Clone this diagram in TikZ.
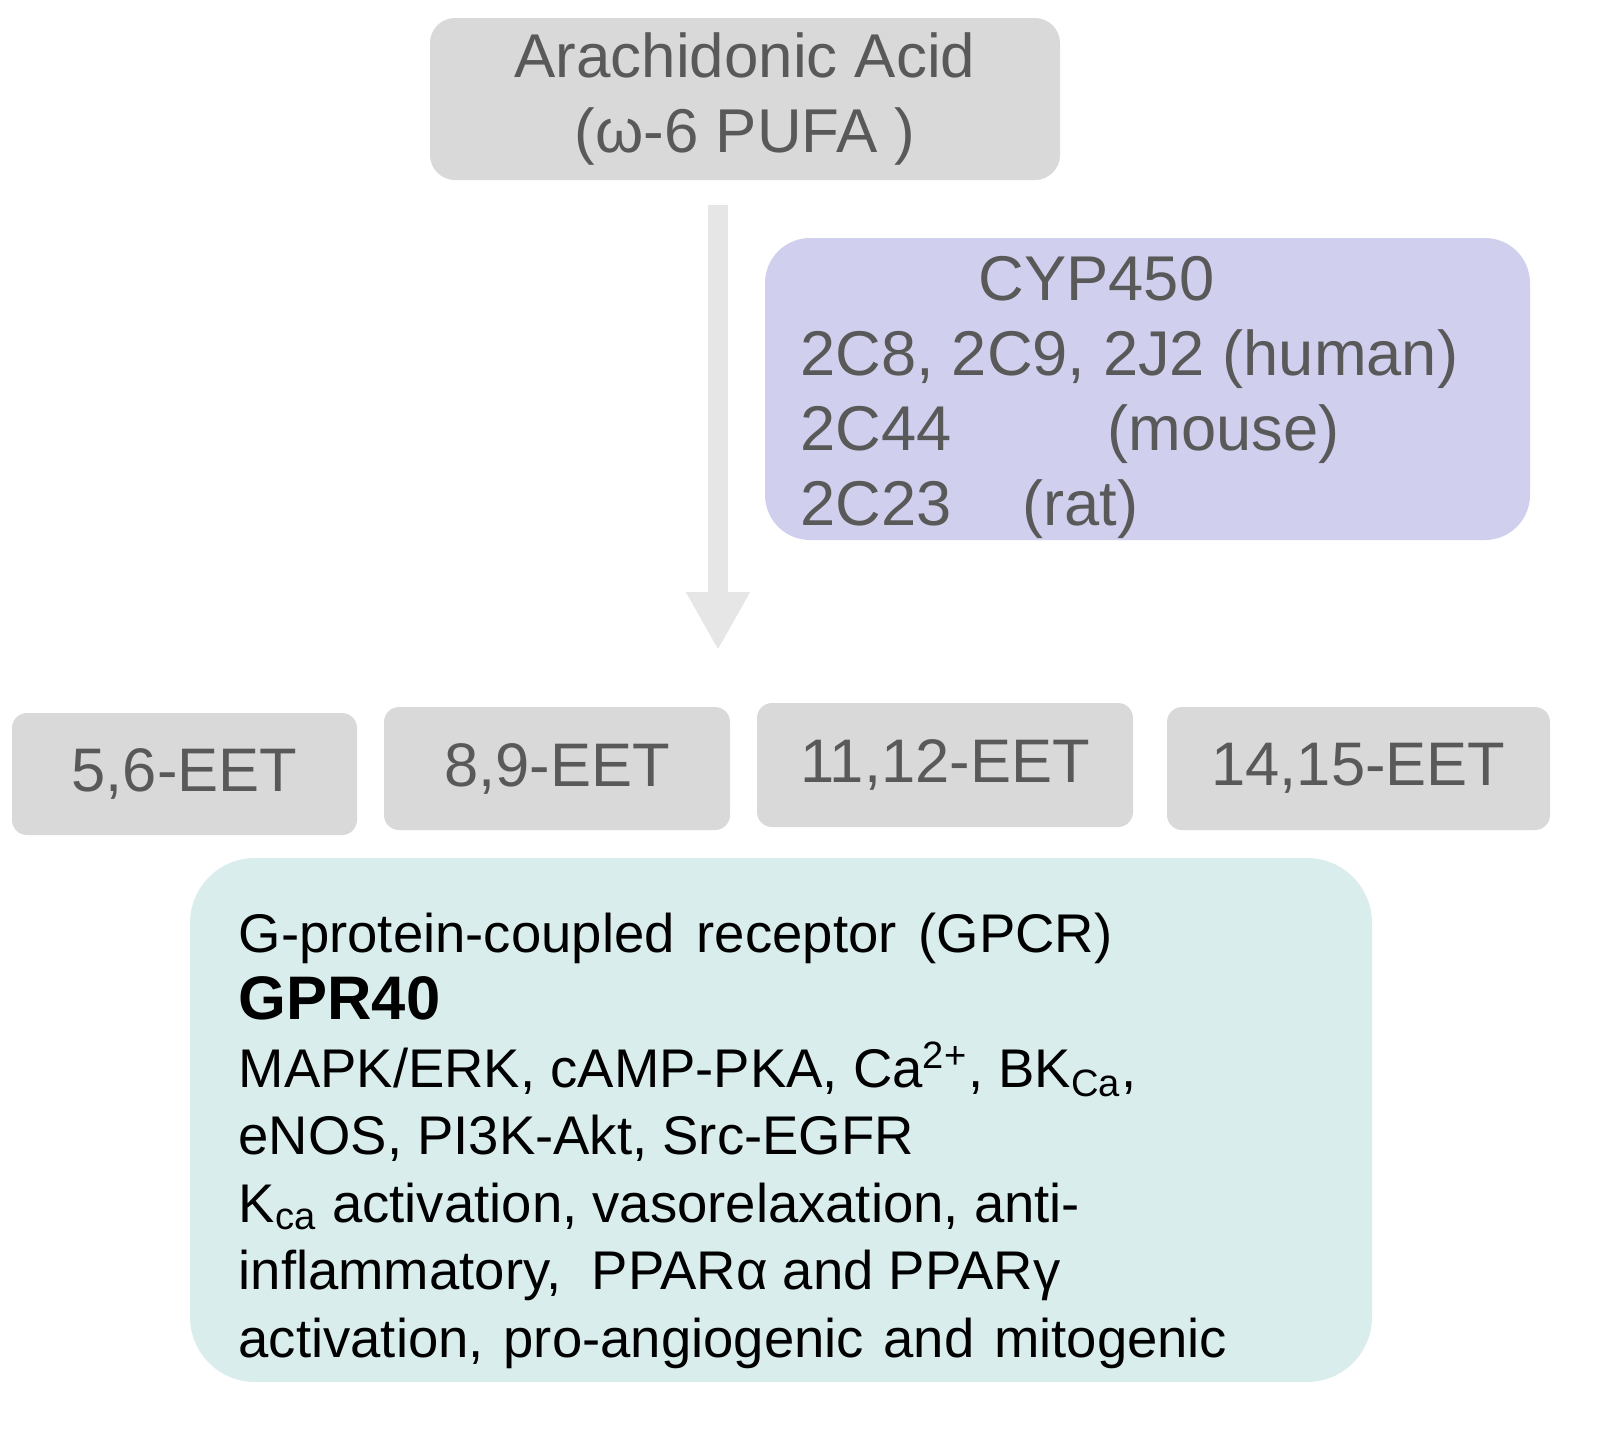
\documentclass[tikz,border=0pt]{standalone}
\usepackage{fontspec}
\setmainfont{Liberation Sans}
\usetikzlibrary{arrows.meta}
\definecolor{boxgray}{HTML}{D9D9D9}
\definecolor{txtgray}{HTML}{595959}
\definecolor{cyplilac}{HTML}{D0D0EE}
\definecolor{gprteal}{HTML}{DAEDED}
\definecolor{arrgray}{HTML}{E6E6E6}
\begin{document}
\begin{tikzpicture}[
  graybox/.style={fill=boxgray,rounded corners=#1,inner sep=0pt,text=txtgray},
  graybox/.default=0.15cm,
  eet/.style={graybox,font=\fontsize{17.5}{21}\selectfont},
  boxtext/.style={anchor=base west,align=left,inner sep=0pt}
]
\useasboundingbox (0,0) rectangle (16.19,-14.51);
\node[graybox=0.25cm,minimum width=6.30cm,minimum height=1.62cm,align=center,
  font=\fontsize{17.6}{21.3}\selectfont] (aa) at (7.45,-0.99) {Arachidonic Acid\\(ω-6 PUFA )};
\coordinate (arrtop) at (7.18,-2.05);
\coordinate (arrend) at (7.18,-6.50);
\draw[arrgray,line width=0.2cm,-{Triangle[width=0.6cm,length=0.58cm]}] (arrtop)--(arrend);
\node[fill=cyplilac,rounded corners=0.45cm,minimum width=7.65cm,minimum height=3.02cm] (cyp) at (11.475,-3.89) {};
\node[boxtext,text=txtgray,font=\fontsize{18}{21.3}\selectfont] (cyptext) at (8.00,-5.25)
  {\hspace*{1.78cm}CYP450\\2C8, 2C9, 2J2 (human)\\\makebox[3.07cm][l]{2C44}(mouse)\\\makebox[2.22cm][l]{2C23}(rat)};
\node[eet,minimum width=3.45cm,minimum height=1.22cm] (eet56) at (1.845,-7.74) {5,6-EET};
\node[eet,minimum width=3.46cm,minimum height=1.23cm] (eet89) at (5.57,-7.685) {8,9-EET};
\node[eet,minimum width=3.76cm,minimum height=1.24cm] (eet1112) at (9.45,-7.65) {11,12-EET};
\node[eet,minimum width=3.83cm,minimum height=1.23cm] (eet1415) at (13.585,-7.685) {14,15-EET};
\node[fill=gprteal,rounded corners=0.65cm,minimum width=11.82cm,minimum height=5.24cm] (gpr) at (7.81,-11.20) {};
\node[boxtext,font=\fontsize{15.5}{19.2}\selectfont] (gprtext) at (2.38,-13.57)
  {{\spaceskip=6.3pt G-protein-coupled receptor (GPCR)}\\
   {\fontsize{17.5}{20.5}\selectfont\bfseries GPR40}\\
   MAPK/ERK, cAMP-PKA, Ca\textsuperscript{2+}, BK\textsubscript{Ca},\\
   eNOS, PI3K-Akt, Src-EGFR\\
   K\textsubscript{ca} activation, vasorelaxation, anti-\\
   inflammatory,~ PPARα and PPARγ\\
   {\spaceskip=5.6pt activation, pro-angiogenic and mitogenic}};
\end{tikzpicture}
\end{document}
